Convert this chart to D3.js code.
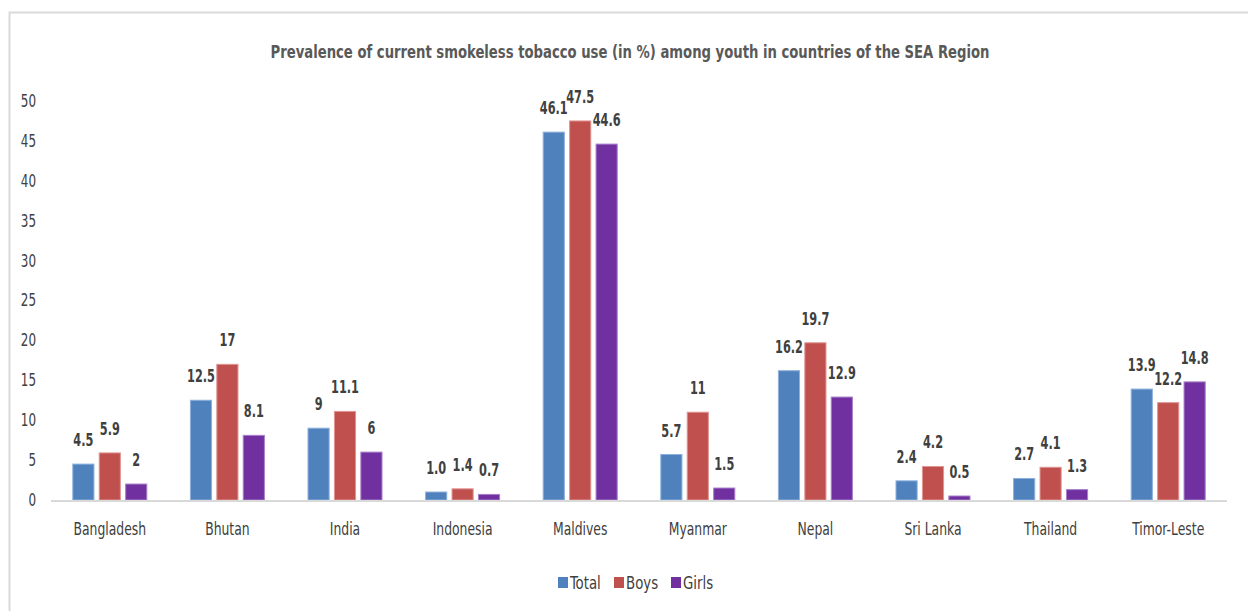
<!DOCTYPE html>
<html>
<head>
<meta charset="utf-8">
<script src="https://cdn.jsdelivr.net/npm/d3@7"></script>
<style>
  body { margin: 0; background: #fff; }
  svg text { font-family: "DejaVu Sans Condensed", "DejaVu Sans", sans-serif; }
</style>
</head>
<body>
<svg id="chart"></svg>
<script>
var countries = ["Bangladesh", "Bhutan", "India", "Indonesia", "Maldives", "Myanmar", "Nepal", "Sri Lanka", "Thailand", "Timor-Leste"];
var series_names = ["Total", "Boys", "Girls"];
var total_values = [4.5, 12.5, 9, 1.0, 46.1, 5.7, 16.2, 2.4, 2.7, 13.9];
var boys_values = [5.9, 17, 11.1, 1.4, 47.5, 11, 19.7, 4.2, 4.1, 12.2];
var girls_values = [2, 8.1, 6, 0.7, 44.6, 1.5, 12.9, 0.5, 1.3, 14.8];
var total_labels = ["4.5", "12.5", "9", "1.0", "46.1", "5.7", "16.2", "2.4", "2.7", "13.9"];
var boys_labels = ["5.9", "17", "11.1", "1.4", "47.5", "11", "19.7", "4.2", "4.1", "12.2"];
var girls_labels = ["2", "8.1", "6", "0.7", "44.6", "1.5", "12.9", "0.5", "1.3", "14.8"];
var y_ticks = [0, 5, 10, 15, 20, 25, 30, 35, 40, 45, 50];
var title_text = "Prevalence of current smokeless tobacco use (in %) among youth in countries of the SEA Region";

var width = 1248, height = 611;
var colors = ["#4f81bd", "#c0504d", "#7030a0"];
var strokes = ["#8db0dc", "#e09593", "#a77fc9"];

// the original font is narrower, so squeeze the glyphs horizontally
function squeeze(sel, k) {
    sel.each(function() {
        var len = this.getComputedTextLength();
        d3.select(this).attr("textLength", len * k).attr("lengthAdjust", "spacingAndGlyphs");
    });
}

var svg = d3.select("#chart").attr("width", width).attr("height", height);

// outer frame of the chart area
svg.append("path")
    .attr("d", "M9.5," + height + "V12.5H" + width)
    .attr("fill", "none")
    .attr("stroke", "#d9d9d9")
    .attr("stroke-width", 2);

svg.append("text")
    .attr("x", 630)
    .attr("y", 58)
    .attr("text-anchor", "middle")
    .style("font-size", "18px")
    .style("font-weight", "bold")
    .style("fill", "#595959")
    .attr("textLength", 719)
    .attr("lengthAdjust", "spacingAndGlyphs")
    .text(title_text);

var xs = d3.scaleBand().domain(countries).range([51, 1227]);
var ys = d3.scaleLinear().domain([0, 50]).range([500, 101]);
var xsub = d3.scaleBand().domain(series_names).range([-37, 37]).paddingInner(0.2);

// y tick labels
svg.append("g")
    .selectAll("text")
    .data(y_ticks)
    .enter()
    .append("text")
        .attr("x", 36)
        .attr("y", d => ys(d))
        .attr("dy", "0.35em")
        .attr("text-anchor", "end")
        .style("font-size", "17px")
        .style("fill", "#404040")
        .text(d => d)
        .call(squeeze, 0.78);

var all_values = [total_values, boys_values, girls_values];
var all_labels = [total_labels, boys_labels, girls_labels];

for (var s = 0; s < series_names.length; s++) {
    var rows = countries.map((c, i) => ({c: c, v: all_values[s][i], l: all_labels[s][i], name: series_names[s]}));
    var g = svg.append("g");
    g.selectAll("rect")
        .data(rows)
        .enter()
        .append("rect")
            .attr("x", d => xs(d.c) + xs.bandwidth() / 2 + xsub(d.name))
            .attr("y", d => ys(d.v))
            .attr("width", xsub.bandwidth())
            .attr("height", d => ys(0) - ys(d.v))
            .attr("fill", colors[s])
            .attr("stroke", strokes[s])
            .attr("stroke-width", 1);
    g.selectAll("text")
        .data(rows)
        .enter()
        .append("text")
            .attr("x", d => xs(d.c) + xs.bandwidth() / 2 + xsub(d.name) + xsub.bandwidth() / 2)
            .attr("y", d => ys(d.v) - 18)
            .attr("text-anchor", "middle")
            .style("font-size", "17px")
            .style("font-weight", "bold")
            .style("fill", "#404040")
            .text(d => d.l)
            .call(squeeze, 0.74);
}

// x axis line and category labels
svg.append("line")
    .attr("x1", 51).attr("x2", 1227)
    .attr("y1", ys(0) + 1).attr("y2", ys(0) + 1)
    .attr("stroke", "#d9d9d9")
    .attr("stroke-width", 2);

svg.append("g")
    .selectAll("text")
    .data(countries)
    .enter()
    .append("text")
        .attr("x", d => xs(d) + xs.bandwidth() / 2)
        .attr("y", 535)
        .attr("text-anchor", "middle")
        .style("font-size", "17px")
        .style("fill", "#404040")
        .text(d => d)
        .call(squeeze, 0.81);

// legend
var legend_x = [558, 614, 671];
var legend = svg.append("g")
    .selectAll("g")
    .data(series_names)
    .enter()
    .append("g")
        .attr("transform", (d, i) => "translate(" + legend_x[i] + ",577)");
legend.append("rect")
    .attr("width", 10)
    .attr("height", 11)
    .attr("fill", (d, i) => colors[i]);
legend.append("text")
    .attr("x", 12)
    .attr("y", 6)
    .attr("dy", "0.35em")
    .style("font-size", "17px")
    .style("fill", "#404040")
    .text(d => d)
    .call(squeeze, 0.87);
</script>
</body>
</html>
